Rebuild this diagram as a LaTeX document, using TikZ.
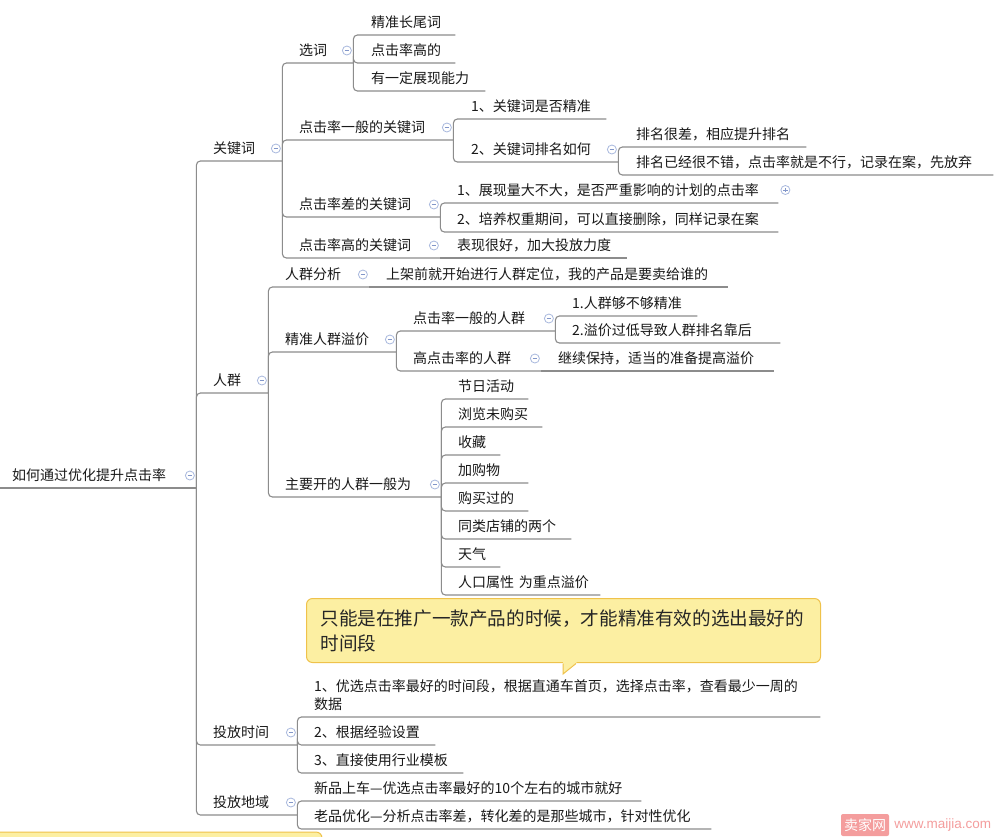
\documentclass[tikz,border=0pt]{standalone}
\usepackage{fontspec}
\setmainfont{Noto Sans CJK SC}
\newfontfamily\urlfont{Liberation Sans}
\usetikzlibrary{calc,positioning}
\definecolor{linkgray}{HTML}{8C8C8C}
\definecolor{foldline}{HTML}{A9B9DE}
\definecolor{foldmark}{HTML}{8296C9}
\definecolor{tipfill}{HTML}{FCEFA2}
\definecolor{tipline}{HTML}{EFC24B}
\definecolor{wmpink}{HTML}{F49D9D}
\tikzset{
  topic/.style={anchor=south west,inner xsep=0pt,inner ysep=0pt,text depth=7.5pt,align=left,
    text=black!90,font=\fontsize{14}{18}\selectfont},
  link/.style={draw=linkgray,line width=1.1pt,rounded corners=4pt},
  foldicon/.style={circle,draw=foldline,fill=white,minimum size=9pt,inner sep=0pt,line width=.8pt},
  fold/.style={foldicon,xshift=-6.5pt,yshift=12.5pt,
    path picture={\draw[foldmark,line width=.8pt] ([xshift=-2.2pt]path picture bounding box.center) -- ([xshift=2.2pt]path picture bounding box.center);}},
  unfold/.style={foldicon,xshift=7pt,yshift=13pt,
    path picture={\draw[foldmark,line width=.8pt] ([xshift=-2.2pt]path picture bounding box.center) -- ([xshift=2.2pt]path picture bounding box.center)
      ([yshift=-2.2pt]path picture bounding box.center) -- ([yshift=2.2pt]path picture bounding box.center);}},
  callout/.style={anchor=north west,draw=tipline,fill=tipfill,rounded corners=6pt,line width=1pt,
    minimum width=514pt,minimum height=64pt,inner xsep=14pt,text width=486pt,align=left,
    text=black!85,font=\fontsize{18.6}{25}\selectfont}
}

\begin{document}
\begin{tikzpicture}[x=1pt,y=-1pt]
  \useasboundingbox (0,0) rectangle (1000,836);
  \clip (0,0) rectangle (1000,836);
  \fill[white] (0,0) rectangle (1000,836);
  % root and first level
  \node[topic,text width=184pt] (root) at (12,488) {如何通过优化提升点击率};
  \node[topic,text width=69pt] (kw) at (213,161) {关键词};
  \node[topic,text width=55pt] (rq) at (213,393) {人群};
  \node[topic,text width=84pt] (tfsj) at (213,745) {投放时间};
  \node[topic,text width=84pt] (tfdy) at (213,815) {投放地域};
  % keywords
  \node[topic,text width=54pt] (xc) at (299,63) {选词};
  \node[topic,text width=154pt] (ybkw) at (299,140) {点击率一般的关键词};
  \node[topic,text width=141pt] (ckw) at (299,217) {点击率差的关键词};
  \node[topic,text width=141pt] (gkw) at (299,258) {点击率高的关键词};
  \node[topic,text width=84pt] (cw1) at (371,35) {精准长尾词};
  \node[topic,text width=84pt] (cw2) at (371,63) {点击率高的};
  \node[topic,text width=114pt] (cw3) at (371,91) {有一定展现能力};
  \node[topic,text width=135pt] (yb1) at (471,119) {1、关键词是否精准};
  \node[topic,text width=147pt] (yb2) at (471,162) {2、关键词排名如何};
  \node[topic,text width=170pt] (pm1) at (636,147) {排名很差，相应提升排名};
  \node[topic,text width=357pt] (pm2) at (636,175) {排名已经很不错，点击率就是不行，记录在案，先放弃};
  \node[topic,text width=321pt] (cz1) at (457,203) {1、展现量大不大，是否严重影响的计划的点击率};
  \node[topic,text width=321pt] (cz2) at (457,232) {2、培养权重期间，可以直接删除，同样记录在案};
  \node[topic,text width=170pt] (gk1) at (457,258) {表现很好，加大投放力度};
  % crowds
  \node[topic,text width=84pt] (rqfx) at (285,287) {人群分析};
  \node[topic,text width=342pt] (fx1) at (386,287) {上架前就开始进行人群定位，我的产品是要卖给谁的};
  \node[topic,text width=111pt] (jzyj) at (285,352) {精准人群溢价};
  \node[topic,text width=156pt] (zyk) at (285,497) {主要开的人群一般为};
  \node[topic,text width=142pt] (djyb) at (413,331) {点击率一般的人群};
  \node[topic,text width=128pt] (gdj) at (413,371) {高点击率的人群};
  \node[topic,text width=216pt] (gdj1) at (558,371) {继续保持，适当的准备提高溢价};
  \node[topic,text width=125pt] (dj1) at (572,316) {1.人群够不够精准};
  \node[topic,text width=208pt] (dj2) at (572,343) {2.溢价过低导致人群排名靠后};
  \foreach \txt/\w [count=\i from 0] in {节日活动/70,浏览未购买/84,收藏/42,加购物/70,购买过的/70,同类店铺的两个/113,天气/42,人口属性 为重点溢价/142}
    \node[topic,text width=\w pt] (zy\i) at (458,399+28*\i) {\txt};
  % time and region
  \node[topic,text width=506pt,text depth=25.5pt] (sj1) at (314,717) {1、优选点击率最好的时间段，根据直通车首页，选择点击率，查看最少一周的\\数据};
  \node[topic,text width=121pt] (sj2) at (314,745) {2、根据经验设置};
  \node[topic,text width=149pt] (sj3) at (314,773) {3、直接使用行业模板};
  \node[topic,text width=327pt] (dy1) at (314,801) {新品上车—优选点击率最好的10个左右的城市就好};
  \node[topic,text width=397pt] (dy2) at (314,829) {老品优化—分析点击率差，转化差的是那些城市，针对性优化};

  % connectors
  \draw[link] ([xshift=-12pt]root.south west) -- (root.south east);
  \foreach \c in {kw,rq,tfsj,tfdy} \draw[link] (root.south east) |- (\c.south east);
  \foreach \c in {xc,ybkw,ckw,gkw} \draw[link] (kw.south east) |- (\c.south east);
  \foreach \c in {cw1,cw2,cw3} \draw[link] (xc.south east) |- (\c.south east);
  \foreach \c in {yb1,yb2} \draw[link] (ybkw.south east) |- (\c.south east);
  \foreach \c in {pm1,pm2} \draw[link] (yb2.south east) |- (\c.south east);
  \foreach \c in {cz1,cz2} \draw[link] (ckw.south east) |- (\c.south east);
  \draw[link] (gkw.south east) -- (gk1.south east);
  \foreach \c in {rqfx,jzyj,zyk} \draw[link] (rq.south east) |- (\c.south east);
  \draw[link] (rqfx.south east) -- (fx1.south east);
  \foreach \c in {djyb,gdj} \draw[link] (jzyj.south east) |- (\c.south east);
  \foreach \c in {dj1,dj2} \draw[link] (djyb.south east) |- (\c.south east);
  \draw[link] (gdj.south east) -- (gdj1.south east);
  \foreach \i in {0,...,7} \draw[link] (zyk.south east) |- (zy\i.south east);
  \foreach \c in {sj1,sj2,sj3} \draw[link] (tfsj.south east) |- (\c.south east);
  \foreach \c in {dy1,dy2} \draw[link] (tfdy.south east) |- (\c.south east);

  % fold markers
  \foreach \p in {root,kw,rq,tfsj,tfdy,xc,ybkw,ckw,gkw,yb2,rqfx,jzyj,djyb,gdj,zyk}
    \node[fold] (\p-f) at (\p.south east) {};
  \node[unfold] (cz1-f) at (cz1.south east) {};

  % note
  \node[callout] (tip) at (306,598) {只能是在推广一款产品的时候，才能精准有效的选出最好的\\时间段};
  \fill[tipfill] ($(tip.south west)+(257,-1)$) -- ($(tip.south west)+(257,11)$) -- ($(tip.south west)+(271,-1)$) -- cycle;
  \draw[tipline,line width=1pt] ($(tip.south west)+(257,.5)$) -- ($(tip.south west)+(257,11)$) -- ($(tip.south west)+(270,.5)$);
  \draw[tipline,fill=tipfill,rounded corners=6pt,line width=1pt] (-10,832) rectangle (322,860);

  % watermark
  \node[fill=wmpink,text=white,rounded corners=2pt,minimum width=48pt,minimum height=22pt,inner sep=0pt,
    font=\fontsize{14}{14}\selectfont] (wmbox) at (865,825) {卖家网};
  \node[right=5pt of wmbox,inner sep=0pt,text=wmpink,font=\urlfont\fontsize{13.5}{14}\selectfont] (wmurl) {www.maijia.com};
\end{tikzpicture}
\end{document}
